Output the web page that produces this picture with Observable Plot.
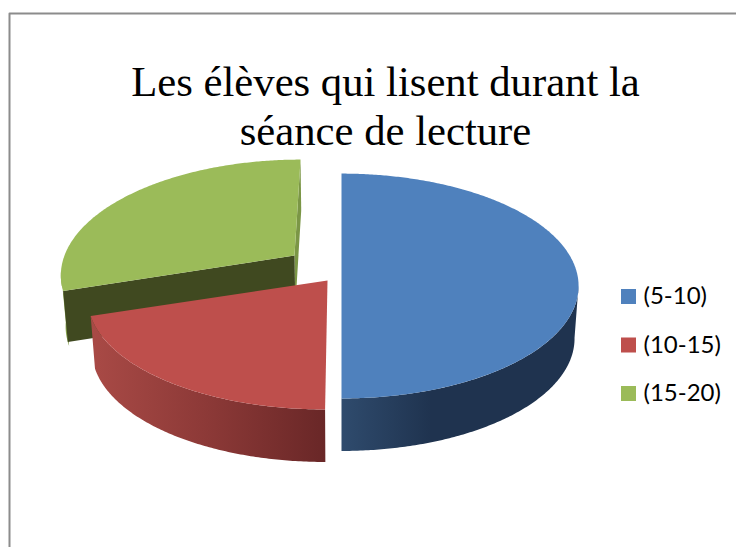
<!DOCTYPE html>
<html lang="fr">
<head>
<meta charset="utf-8">
<style>html,body{margin:0;padding:0;background:#fff;overflow:hidden}svg{display:block}</style>
<script src="https://cdn.jsdelivr.net/npm/d3@7"></script>
<script src="https://cdn.jsdelivr.net/npm/@observablehq/plot@0.6"></script>
</head>
<body>
<script>
const titleLines = ["Les élèves qui lisent durant la", "séance de lecture"];
const categories = ["(5-10)", "(10-15)", "(15-20)"];
const shares = [50, 20, 30];
const colors = ["#4F81BD", "#BE4F4C", "#9BBB59"];

// layout of the exploded 3D pie, in page units
const cx = 341, radiusY = 110, persp = 0.147, lowerScale = 0.983;
const radiusX = [234.5, 237, 230];
const depth = [52.5, 52.5, 51];
const shiftX = [0, -14, -47];
const apexY = [269, 280, 255];

const total = d3.sum(shares);
const cum = d3.cumsum(shares);
const startAngle = i => (i === 0 ? 0 : cum[i - 1]) / total * 2 * Math.PI;
const endAngle = i => cum[i] / total * 2 * Math.PI;

function upper(i, a) {
  const u = Math.sin(a), v = -Math.cos(a), p = 1 / (1 - persp * v);
  return {x: cx + (shiftX[i] + radiusX[i] * u) * p, y: apexY[i] + radiusY * v * p};
}
function lower(i, a) {
  const q = upper(i, a);
  return {x: cx + (q.x - cx) * lowerScale, y: q.y + depth[i]};
}
function upperApex(i) { return {x: cx + shiftX[i], y: apexY[i]}; }
function lowerApex(i) { return {x: cx + shiftX[i] * lowerScale, y: apexY[i] + depth[i]}; }
function arc(i, a0, a1, f) {
  const n = Math.max(2, Math.ceil(Math.abs(a1 - a0) / 0.01));
  return d3.range(n + 1).map(k => f(i, a0 + (a1 - a0) * k / n));
}
const topFace = i => [upperApex(i), ...arc(i, startAngle(i), endAngle(i), upper)];
const outerWall = (i, a0, a1) => [...arc(i, a0, a1, upper), ...arc(i, a1, a0, lower)];
const edgeWall = (i, a) => [upperApex(i), upper(i, a), lower(i, a), lowerApex(i)];
const poly = (pts, fill) => Plot.line(pts, {x: "x", y: "y", fill, stroke: "none"});

function gradient(id, stops) {
  const g = d3.create("svg:linearGradient").attr("id", id).attr("x1", 0).attr("x2", 1).attr("y1", 0).attr("y2", 0);
  stops.forEach(([o, c]) => g.append("stop").attr("offset", o).attr("stop-color", c));
  return g.node();
}
function defsMark() {
  const d = d3.create("svg:defs");
  d.append(() => gradient("wallBlue", [[0, "#2F4B6D"], [0.38, "#1F334F"], [1, "#1F334F"]]));
  d.append(() => gradient("wallRed", [[0, "#A94A46"], [0.5, "#8C3937"], [1, "#692727"]]));
  d.append(() => gradient("wallGreen", [[0, "#93B053"], [1, "#7E9A47"]]));
  return d.node();
}

const toRad = Math.PI / 180;
const frame = [{x: 736, y: 13}, {x: 9, y: 13}, {x: 9, y: 547}];

const chart = Plot.plot({
  width: 736, height: 547,
  marginTop: 0, marginRight: 0, marginBottom: 0, marginLeft: 0,
  x: {domain: [0, 736], range: [0, 736], axis: null},
  y: {domain: [0, 547], range: [0, 547], axis: null},
  color: {domain: categories, range: colors},
  style: {background: "#fff"},
  marks: [
    defsMark,
    Plot.line(frame, {x: "x", y: "y", stroke: "#8C8C8C", strokeWidth: 2}),
    Plot.text(titleLines, {
      x: () => 385, y: (d, i) => 81.5 + i * 49, text: d => d,
      fontFamily: "Liberation Serif", fontSize: 42.7, fill: "#000", textAnchor: "middle"
    }),
    // green slice
    poly(outerWall(2, 250 * toRad, 262 * toRad), "url(#wallGreen)"),
    poly(edgeWall(2, endAngle(2)), "#7B9646"),
    poly(edgeWall(2, startAngle(2)), "#404920"),
    poly(topFace(2), colors[2]),
    // red slice
    poly(outerWall(1, startAngle(1), endAngle(1)), "url(#wallRed)"),
    poly(topFace(1), colors[1]),
    // blue slice
    poly(outerWall(0, 98 * toRad, endAngle(0)), "url(#wallBlue)"),
    poly(topFace(0), colors[0]),
    // legend
    Plot.rect(categories, {
      x1: () => 621, x2: () => 636,
      y1: (d, i) => 289 + i * 48.5, y2: (d, i) => 304 + i * 48.5,
      fill: d => d, inset: 0
    }),
    Plot.text(categories, {
      x: () => 643, y: (d, i) => 296 + i * 48.5, text: d => d,
      fontFamily: "Lato", fontSize: 24, fill: "#000", textAnchor: "start"
    })
  ]
});
document.body.appendChild(chart);
</script>
</body>
</html>
